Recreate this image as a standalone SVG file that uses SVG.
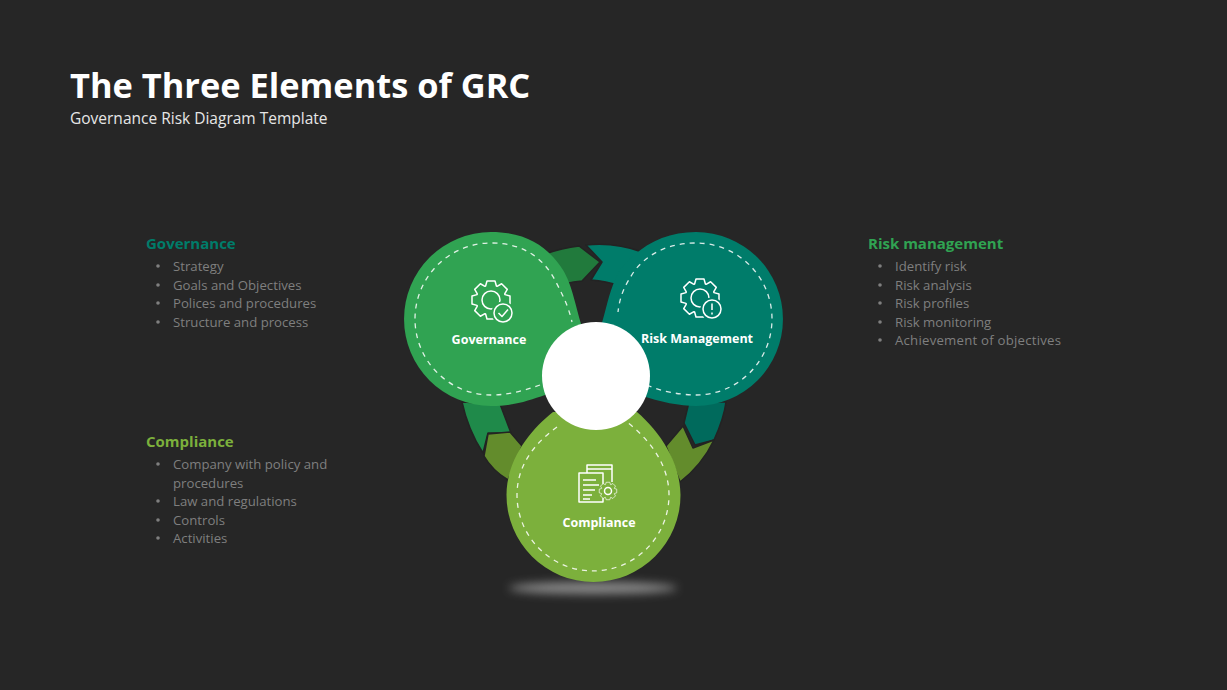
<svg xmlns="http://www.w3.org/2000/svg" width="1227" height="690" viewBox="0 0 1227 690">
<style>
text{font-family:"Open Sans","Liberation Sans",sans-serif}
.t{font-size:34.4px;font-weight:700;fill:#fff}
.s{font-size:15.5px;fill:#e6e6e6}
.h{font-size:15px;font-weight:700}
.b{font-size:13.2px;fill:#7f7f7f}
.d{fill:#7f7f7f}
.l{font-size:12.5px;font-weight:700;fill:#fff;text-anchor:middle}
.dash{fill:none;stroke:#fff;stroke-width:1.3;stroke-dasharray:5 5;opacity:.85}
.i{fill:none;stroke:#fff;stroke-width:1.5;stroke-linejoin:round}
.a{stroke:#232323;stroke-width:1.5;stroke-linejoin:round}
</style>
<defs>
<polygon id="gear" points="-5.400,-14 -4,-19 4,-19 5.400,-14 6.080,-13.720 10.600,-16.260 16.260,-10.600 13.720,-6.080 14,-5.400 19,-4 19,4 14,5.400 13.720,6.080 16.260,10.600 10.600,16.260 6.080,13.720 5.400,14 4,19 -4,19 -5.400,14 -6.080,13.720 -10.600,16.260 -16.260,10.600 -13.720,6.080 -14,5.400 -19,4 -19,-4 -14,-5.400 -13.720,-6.080 -16.260,-10.600 -10.600,-16.260 -6.080,-13.720"/>
<filter id="blur" x="-30%" y="-200%" width="160%" height="500%"><feGaussianBlur stdDeviation="5"/></filter>
</defs>
<rect width="1227" height="690" fill="#262626"/>
<text class="t" x="70" y="98">The Three Elements of GRC</text>
<text class="s" x="70" y="124">Governance Risk Diagram Template</text>
<g id="text-governance">
<text class="h" x="146" y="249" fill="#007c6a">Governance</text>
<g class="d"><circle cx="158" cy="266" r="1.8"/><circle cx="158" cy="285" r="1.8"/><circle cx="158" cy="303" r="1.8"/><circle cx="158" cy="322" r="1.8"/></g>
<text class="b" x="173" y="271">Strategy</text>
<text class="b" x="173" y="290">Goals and Objectives</text>
<text class="b" x="173" y="308">Polices and procedures</text>
<text class="b" x="173" y="327">Structure and process</text>
</g>
<g id="text-compliance">
<text class="h" x="146" y="447" fill="#7cb03c">Compliance</text>
<g class="d"><circle cx="158" cy="464" r="1.8"/><circle cx="158" cy="501" r="1.8"/><circle cx="158" cy="520" r="1.8"/><circle cx="158" cy="538" r="1.8"/></g>
<text class="b" x="173" y="469">Company with policy and</text>
<text class="b" x="173" y="488">procedures</text>
<text class="b" x="173" y="506">Law and regulations</text>
<text class="b" x="173" y="525">Controls</text>
<text class="b" x="173" y="543">Activities</text>
</g>
<g id="text-risk">
<text class="h" x="868" y="249" fill="#30a352">Risk management</text>
<g class="d"><circle cx="880" cy="266" r="1.8"/><circle cx="880" cy="285" r="1.8"/><circle cx="880" cy="303" r="1.8"/><circle cx="880" cy="322" r="1.8"/><circle cx="880" cy="340" r="1.8"/></g>
<text class="b" x="895" y="271">Identify risk</text>
<text class="b" x="895" y="290">Risk analysis</text>
<text class="b" x="895" y="308">Risk profiles</text>
<text class="b" x="895" y="327">Risk monitoring</text>
<text class="b" x="895" y="345" textLength="166">Achievement of objectives</text>
</g>
<ellipse id="shadow" cx="593" cy="588" rx="84" ry="6" fill="#8a8a8a" filter="url(#blur)"/>
<g id="connectors">
<path class="a" fill="#007c6a" d="M586 245Q615 242 642 252L620 286Q606 281 591 280L602 262Z"/>
<path class="a" fill="#217a3c" d="M545 254Q562 248 579 246L600 262L582 281Q565 282 550 290Z"/>
<path class="a" fill="#1f8a4a" d="M462 402L500 404L511 433L488 433L483 453Q468 430 462 402Z"/>
<path class="a" fill="#638c2c" d="M488 434L510 432L522 446L508 480Q492 470 484 456Z"/>
<path class="a" fill="#006a5c" d="M689 402L726 402Q724 418 714 440L695 445L684 423Z"/>
<path class="a" fill="#638c2c" d="M683 426L693 448L714 440Q702 465 680 482L666 446Z"/>
</g>
<g id="node-compliance">
<path fill="#7cb03c" d="M553 412C530 430 506.500 460 506.500 495A87 87 0 0 0 680.500 495C680.500 462 660 432 637 412Z"/>
<path class="dash" d="M557 427C535 443 517 465 517 495A76 76 0 0 0 669 495C669 465 650 440 627 422"/>
<g class="i">
<path d="M587 473V465H612V482"/><path d="M587 469H612"/>
<rect x="579" y="473" width="24" height="29" fill="#7cb03c"/>
<path d="M583 480H596M583 485H599M583 490H595M583 495H592M583 499H590"/>
<use href="#gear" transform="translate(608 491) scale(.46)" fill="#7cb03c"/>
<circle cx="608" cy="491" r="3.500"/>
</g>
<text class="l" x="599" y="527">Compliance</text>
</g>
<g id="node-risk">
<path fill="#007c6a" d="M620 270C640 245 665 232 696 232A87 87 0 0 1 696 406C680 406 660 402 640 395L590 350C605 330 605 295 620 270Z"/>
<path class="dash" d="M647 385C660 391 680 395 696 395A76 76 0 0 0 696 243C670 243 650 252 635 270C625 285 620 295 618 312"/>
<use class="i" href="#gear" transform="translate(700 298)"/>
<circle class="i" cx="700" cy="298" r="9"/>
<circle cx="712" cy="309" r="11.500" fill="#007c6a"/>
<circle class="i" cx="712" cy="309" r="9"/>
<path class="i" d="M712 303.500V310M712 312.500V314.500"/>
<text class="l" x="697" y="343">Risk Management</text>
</g>
<g id="node-governance">
<path fill="#30a352" d="M491 232C530 232 550 250 563 270C572 285 574 300 582 327L590 380L545 395C530 400 515 406 491 406A87 87 0 0 1 491 232Z"/>
<path class="dash" d="M540 385C525 390 510 395 491 395A76 76 0 0 1 491 243C525 243 545 260 556 282C563 296 568 305 572 322"/>
<use class="i" href="#gear" transform="translate(491 300)"/>
<circle class="i" cx="491" cy="300" r="9"/>
<circle cx="503" cy="313" r="11.500" fill="#30a352"/>
<circle class="i" cx="503" cy="313" r="9"/>
<path class="i" d="M498.500 313L502 316.500L508 309.500"/>
<text class="l" x="489" y="344">Governance</text>
</g>
<circle id="hub" cx="596" cy="376" r="54" fill="#fff"/>
</svg>
